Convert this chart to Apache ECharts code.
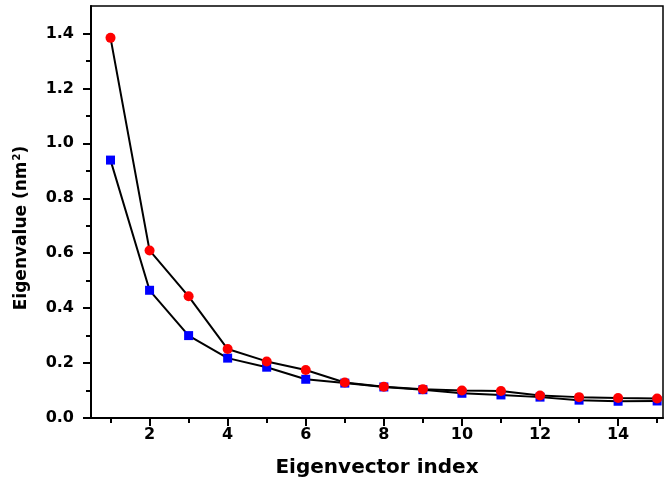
<!DOCTYPE html>
<html>
<head>
<meta charset="utf-8">
<script src="https://cdn.jsdelivr.net/npm/echarts@6/dist/echarts.min.js"></script>
<style>html,body{margin:0;padding:0;background:#fff}#c{width:672px;height:494px}</style>
</head>
<body>
<div id="c"></div>
<script>
var indices = [1,2,3,4,5,6,7,8,9,10,11,12,13,14,15];
var redValues = [1.384, 0.610, 0.443, 0.251, 0.206, 0.175, 0.129, 0.114, 0.105, 0.100, 0.098, 0.082, 0.076, 0.073, 0.071];
var blueValues = [0.939, 0.465, 0.300, 0.218, 0.185, 0.141, 0.127, 0.113, 0.103, 0.090, 0.084, 0.076, 0.065, 0.061, 0.062];
var xTicks = [2,4,6,8,10,12,14];
var xMinorTicks = [1,3,5,7,9,11,13,15];
var yTicks = [0.0,0.2,0.4,0.6,0.8,1.0,1.2,1.4];
var yMinorTicks = [0.1,0.3,0.5,0.7,0.9,1.1,1.3];

var chart = echarts.init(document.getElementById('c'), null, {renderer:'canvas'});
function pairs(v){ return indices.map(function(x,i){return [x, v[i]];}); }
var font = '"DejaVu Sans", Arial, sans-serif';
var lab = {fontFamily:font, fontWeight:'bold', fontSize:16, color:'#000'};
var xBase = {type:'value', min:0.5, max:15.15, splitLine:{show:false}};
var yBase = {type:'value', min:0, max:1.5, splitLine:{show:false}};
chart.setOption({
  animation:false,
  backgroundColor:'#fff',
  grid:{left:91, right:9, top:6, bottom:76, show:true, borderColor:'#000', borderWidth:1.5},
  xAxis:[
    Object.assign({}, xBase, {
      name:'Eigenvector index', nameLocation:'middle', nameGap:40,
      nameTextStyle:{fontFamily:font, fontWeight:'bold', fontSize:20, color:'#000'},
      axisLine:{onZero:false, lineStyle:{color:'#000', width:2}},
      axisTick:{show:true, length:8, customValues:xTicks, lineStyle:{color:'#000', width:2}},
      axisLabel:Object.assign({margin:9, customValues:xTicks}, lab)
    }),
    Object.assign({}, xBase, {
      position:'bottom', show:true,
      axisLine:{show:false},
      axisTick:{show:true, length:5, customValues:xMinorTicks, lineStyle:{color:'#000', width:2}},
      axisLabel:{show:false}
    })
  ],
  yAxis:[
    Object.assign({}, yBase, {
      name:'Eigenvalue (nm{sup|2})', nameLocation:'middle', nameGap:60, nameRotate:90,
      nameTextStyle:{fontFamily:font, fontWeight:'bold', fontSize:17, color:'#000', padding:[0,32,0,0],
        rich:{sup:{fontFamily:font, fontWeight:'bold', fontSize:10, color:'#000', verticalAlign:'top', padding:[0,0,9,1]}}},
      axisLine:{onZero:false, lineStyle:{color:'#000', width:2}},
      axisTick:{show:true, length:8, customValues:yTicks, lineStyle:{color:'#000', width:2}},
      axisLabel:Object.assign({margin:17, customValues:yTicks, formatter:function(v){return v.toFixed(1);}}, lab)
    }),
    Object.assign({}, yBase, {
      position:'left', show:true,
      axisLine:{show:false},
      axisTick:{show:true, length:5, customValues:yMinorTicks, lineStyle:{color:'#000', width:2}},
      axisLabel:{show:false}
    })
  ],
  series:[
    {type:'line', data:pairs(redValues), symbol:'circle', symbolSize:10,
     itemStyle:{color:'#ff0000'}, lineStyle:{color:'#000', width:2}, z:3},
    {type:'line', data:pairs(blueValues), symbol:'rect', symbolSize:9,
     itemStyle:{color:'#0000ff'}, lineStyle:{color:'#000', width:2}, z:2}
  ]
});
</script>
</body>
</html>
